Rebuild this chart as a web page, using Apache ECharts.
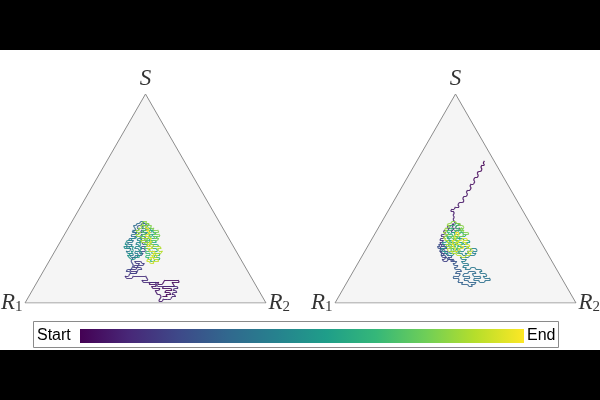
<!DOCTYPE html>
<html><head><meta charset="utf-8">
<script src="https://cdn.jsdelivr.net/npm/echarts@6/dist/echarts.min.js"></script>
<style>html,body{margin:0;padding:0;background:#fff}#c{width:600px;height:400px}</style>
</head><body><div id="c"></div>
<script>
// Simplex outline (x along base, y in lattice rows; apex = S)
const triangle = [[0,0],[50,100],[100,0],[0,0]];
const vertexNames = ['S','R','R'];
const vertexSubs = ['','1','2'];
const colorbarLabels = ['Start','End'];
const VIRIDIS = ['#440154','#482878','#3e4989','#31688e','#26828e','#1f9e89','#35b779','#6ece58','#b5de2b','#fde725'];

// Left panel walk: [x, row]
const walkLeft = [
 [57,3],[59,3],[58.5,4],[60.5,4],[60,5],[58,5],[58.5,6],[61,6],[60.5,7],[57,7],[57.5,8],[62,8],[61,10],[64,10],[63.5,11],[58,11],[57,9],[55,9],[55.5,10],[52,10],[51.5,9],[54,9],[54.5,8],[52.5,8],[53,7],[56,7],[55.5,6],[54,6],[55,4],[56,4],[56.5,3],[55.5,1],[57,1],[57.5,2],[59,2],
 [60.5,2],[61,3],[62.5,3],[62,4],[61,4],[61.5,5],[63,5],[62.5,6],[61.5,6],[62,7],[63.5,7],[63,8],[59,8],[55,8],[54,10],[49,10],[48.5,11],[51,11],
 [50,13],[45,13],[44.5,12],[42,12],[41.5,13],[43,13],[43.5,14],[46,14],[46.5,15],[44,15],[43.5,16],[46,16],[46.5,17],[45,17],[45.5,18],[47,18],[47.5,19],[46,19],[45.5,20],[48,20],[48.5,19],[49.5,19],[49,18],[47,18],[46.5,17],[48,17],[48.5,16],[47,16],[46,14],[44,14],[43.5,15],[42,15],[42.5,16],[44,16],[45,18],[44,20],[45,22],[46.5,22],[47,23],
 [48.5,23],[49,24],[47.5,24],[48,25],[50,25],[49.5,26],[48,26],[48.5,27],[50.5,27],[51,28],[49,28],[48.5,29],[50,29],[50.5,30],[48,30],[48.5,31],[50,31],[49.5,32],[48,32],[48.5,33],[50.5,33],[50,34],[48,34],[48.5,35],[50,35],[50.5,36],[48.5,36],[49,37],[50.5,37],[50,38],[48.5,38],[48,37],[47,37],[46.5,36],[47.5,36],[47,35],[45.5,35],[45,34],[46.5,34],[46,33],
 [47,33],[47.5,34],[49,34],[49.5,35],[51,35],[51.5,36],[50,36],[50.5,37],[51.5,37],[51,38],[49.5,38],[49,39],[48,39],[47.5,38],[46.5,38],[46,37],[45,37],[45.5,36],[46,35],[45,35],[44.5,34],[45.5,34],[46,33],
 [44.5,33],[44,32],[46,32],[45.5,31],[43.5,31],[43,30],[45,30],[44.5,29],[42.5,29],[43,28],[44.5,28],[44,27],[42,27],[42.5,26],[44,26],[43.5,25],[42,25],[42.5,24],[44.5,24],[45,23],[43.5,23],[44,22],[45.5,22],[46,23],[47,23],[46.5,24],[45.5,24],[46,25],[47.5,25],[47,26],[45.5,26],[46,27],[47.5,27],[47,28],[46,28],[46.5,29],[48,29],[47.5,30],[46.5,30],[47,31],[48,31],
 [47.5,32],[46.5,32],[46,31],[44.5,31],[44,30],[42.5,30],[42,29],[41.5,28],[42.5,28],[42,27],[41,27],[41.5,26],[43,26],[43.5,27],[45,27],[44.5,26],[45,25],[44,25],[44.5,24],[43,24],[43.5,23],[42.5,23],[43,22],[44,21],[45.5,21],[46,22],[47.5,22],[47,23],[48,23],[48.5,24],[47.5,25],[48.5,26],[47.5,27],[48,28],[47.5,29],[48.5,30],[48,31],
 [48.5,32],[51.5,32],[52,33],[50,33],[50.5,34],[52.5,34],[53,35],[51,35],[51.5,36],[52.5,36],[52,35],[53.5,35],[53,34],[54.5,34],[54,33],[52.5,33],[53,32],[55,32],[54.5,31],[52,31],[51.5,30],[54,30],[54.5,29],[52.5,29],[52,28],[55,28],[55.5,27],[53,27],[52.5,26],[54.5,26],[55,25],[53,25],[52.5,24],[55.5,24],[56,23],[54,23],[53.5,22],[55.5,22],[56,21],[54,21],[53.5,20],[52,20],[52.5,21],[51,21],[51.5,22],[50,22],[50.5,23],[52,23],[51.5,24],[50,24],[50.5,25],[52,25],[51.5,26],[49.5,26],[50,27],[52,27],[51.5,28],[49.5,28],[50,29],[52,29],[51.5,30],[49.5,30],[50,31],[51.5,31],[51,32],[48.5,32],[49,33],[50,33],[49.5,34],[48.5,34],[49,35],[50.5,35],[50,36],[49,36],[49.5,37],[51,37],[50.5,36],[51.5,36],[51,35],[52,35],[51.5,34],[51,33],[52,33],[51.5,32],[52.5,32],[52,31],[51,31],[50.5,30],[51,29],
 [52.5,29],[53,30],[55,30],[55.5,31],[53.5,31],[54,32],[56,32],[55.5,33],[53.5,33],[54,34],[55.5,34],[55,35],[53,35],[53.5,36],[52,36],[52.5,37],[51,37],[51.5,38],[50,38],[50.5,39],[49,39],[48.5,38],[49.5,37],[48,37],[48.5,36],[47,36],[47.5,35],[46,35],[46.5,34],[48,34],[47.5,33],[46,33],[46.5,32],[48,32],[48.5,31],[50.5,31],[50,30],[48,30],[48.5,29],[50.5,29],[51,28],[53,28],[53.5,27],[56,27],[56.5,26],[55,26],[55.5,25],[57,25],[56.5,24],[54.5,24],[54,23],[55,23],[54.5,22],[53,22],[53.5,21],[55,21],[55.5,20],[53,20],[53.5,19],[52,19],[51.5,20],[50.5,20],[51,21],[52.5,21],[52,22],[53,22],[52.5,23],[53.5,23],[53,24],[54,24],[53.5,25],[51.5,25],[51,26],[53,26],[52.5,27],[50.5,27],[51,28],[52,28],[51.5,29],[52.5,29],[52,30],[52.5,31],[51.5,31],[51,32],[50,32],[50.5,33],[51.5,33],[52,34],[51,34],[50.5,35],[51.5,35],[51,36],[50,36],[50.5,37]
];

// Right panel walk: [x, row]
const walkRight = [
 [62,68],[61.5,67],[62,66],[61,66],[60.5,65],[61,64],[60.5,63],[59.5,63],[59,62],[59.5,61],[59,60],[58,60],[57.5,59],[58,58],[57.5,57],[56.5,57],[56,56],[56.5,55],[56,54],[55,54],[54.5,53],[55,52],[54.5,51],[53.5,51],[53,50],[53.5,49],[53,48],[51.5,48],[51,47],[51.5,46],[50,46],[49.5,45],[48.5,45],[48,44],[49,44],[49.5,43],[49,42],[49.5,41],[49,40],[49.5,39],[50,38],
 [51.5,38],[52,37],[50.5,37],[50,36],[51.5,36],[52,35],[50.5,35],[50,34],[48.5,34],[48,35],[49,35],[49.5,36],[48.5,36],[49,37],
 [49,38],[48.5,37],[47,37],[46.5,36],[47.5,36],[47,35],[45.5,35],[45,34],[46,34],[45.5,33],[44.5,33],[44,32],[45.5,32],[45,31],[44,31],[43.5,30],[45,30],[44.5,29],[43.5,29],[44,28],[45.5,28],[45,27],[44,27],[43.5,26],[45,26],[44.5,25],[43.5,25],[44,24],[45.5,24],[45,23],[44,23],[44.5,22],[46,22],[45.5,21],[44.5,21],[45,20],[46.5,20],[47,21],[48.5,21],[48,20],[49.5,20],
 [49,21],[47.5,21],[47,22],[48.5,22],[48,23],[46.5,23],[46,24],[47,24],[46.5,25],[45.5,25],[45,26],[46.5,26],[46,27],[44.5,27],[44,28],[43,28],[43.5,27],[42.5,27],[43,26],[44,26],[43.5,25],[44.5,24],[44,23],[45.5,23],[46,22],[47,21],[48.5,21],[49,20],[50.5,20],
 [50,19],[49,19],[49.5,18],[51,18],[50.5,17],[49.5,17],[50,16],[52,16],[52.5,15],[50.5,15],[50,14],[52,14],[51.5,13],[49.5,13],[49,12],[51,12],[51.5,11],[51,10],[53,10],[52.5,9],[55,9],[55.5,8],[57,8],[56.5,9],[58,9],[58.5,10],[55.5,10],[55,11],[53.5,11],[54,12],[56,12],[55.5,13],[53,13],[53.5,14],[55,14],[55.5,15],[58,15],[58.5,14],[57,14],[57.5,13],[60,13],[60.5,12],[58,12],[57.5,11],[59.5,11],[60,10],[62,10],[62.5,11],[64.5,11],[64,12],[62,12],[61.5,13],[63,13],[62.5,14],[60.5,14],[60,15],[61,15],[60.5,16],[58.5,16],[58,17],[56.5,17],[56,16],[54,16],[54.5,17],[53,17],[53.5,18],[55.5,18],[55,19],[53,19],[52.5,20],[54,20],[54.5,21],[52.5,21],[52,22],[53.5,22],
 [55.5,22],[56,23],[58,23],[58.5,24],[57,24],[57.5,25],[59,25],[58.5,26],[56.5,26],[56,25],[55,25],[55.5,24],[54,24],[54.5,23],[53,23],
 [52.5,24],[51,24],[51.5,25],[53.5,25],[54,26],[55.5,26],[55,27],[53,27],[52.5,26],[50.5,26],[50,25],[48,25],[47.5,24],[49.5,24],[49,23],[47,23],[46.5,24],[45.5,24],[46,25],[44.5,25],[44,26],[45.5,26],[46,27],[47.5,27],[47,28],[45,28],[44.5,29],[46,29],[46.5,30],[48,30],[47.5,29],[49,29],[48.5,28],[50.5,28],[51,29],[53,29],[53.5,28],[55,28],[54.5,29],[56,29],[55.5,30],[53.5,30],[53,31],[51,31],
 [50.5,32],[48.5,32],[48,31],[46.5,31],[47,32],[46,32],[46.5,33],[48,33],[48.5,34],[50,34],[49.5,33],[51.5,33],[52,34],[53.5,34],[53,33],[54.5,33],[54,32],[52,32],[51.5,31],[52,30],[50,30],[49.5,31],[49,30],[48.5,29],[47,29],[47.5,28],[49.5,28],[50,27],[48,27],[47.5,26],[49,26],[49.5,25],[51,25],[50.5,26],[52,26],[52.5,27],[51,27],[51.5,28],[53,28],[52.5,29],[51,29],[50.5,28],[50,29],[49,29],[48.5,30],[47.5,30],[47,31],[47.5,32],[49,32],[48.5,33],[47,33],[47.5,34],[46.5,34],[47,35],[48.5,35],[49,36],[47.5,36],[48,37],[49.5,37],[50,38],[51,38],[51.5,37],[50.5,37],[50,36],[51.5,36],[51,35],[49.5,35],[50,34],[51,34],[51.5,35],[53,35],[52.5,36],[52,35],[52.5,34],[51.5,33],[50,33],[49.5,32],[50.5,32],[51,31],[50,31],[49.5,30],[51.5,30],[51,29],[49.5,29],[49,28],[48,28],[48.5,27],[50,27],[49.5,26],[48,26],[48.5,25],[50,25],[50.5,24],[51.5,24],[52,25],[51.5,26],[50.5,26],[51,27],[50.5,28],[51,29],[50,30],[50.5,31],[49.5,31],[49,32],[48,32],[48.5,31],[49,31],
 [50.5,31],[51,32],[53,32],[53.5,33],[55.5,33],[55,34],[53,34],[53.5,35],[52,35],[52.5,36],[53.5,36],[53,37],[51.5,37],[52,38],[50.5,38],[50,39],[48.5,39],[48,38],[47,38],[46.5,37],[47.5,37],[47,36],[46,36],[45.5,35],[46.5,35],[46,34],[45,34],[45.5,33],[47,33],[46.5,32],[45.5,32],[45,31],[46,31],[45.5,30],[47,30],[46.5,29],[48,29],[47.5,28],[46,28],[46.5,27],[48.5,27],[48,26],[46.5,26],[47,25],[49,25],[48.5,24],[50,24],[50.5,23],[52,23],[52.5,22],[54,22],[54.5,23],[56,23],[56.5,24],[55,24],[55.5,25],[57,25],[56.5,26],[55,26],[54.5,27],[56,27],[55.5,28],[54,28],[54.5,29],[53,29],[53.5,30],[55,30],[54.5,31],[53,31],[52.5,30],[51,30],[51.5,29],[50,29],[50.5,28],[52,28],[52.5,27],[53.5,27],[53,26],[51.5,26],[51,25],[49.5,25],[50,26],[49,27],[49.5,28],[48.5,28],[49,29],[48.5,30],[49.5,30],[50,31],[49.5,32],[50.5,33],[50,34],[51,34],[51.5,33],[51,32]
];

function hexToRgb(h){return [1,3,5].map(i=>parseInt(h.substr(i,2),16));}
function viridisAt(t){
  t=Math.max(0,Math.min(1,t));
  const f=t*(VIRIDIS.length-1);
  const i=Math.min(Math.floor(f),VIRIDIS.length-2);
  const u=f-i; const a=hexToRgb(VIRIDIS[i]), b=hexToRgb(VIRIDIS[i+1]);
  return 'rgb('+a.map((v,k)=>Math.round(v+(b[k]-v)*u)).join(',')+')';
}
function segments(walk){
  const n=walk.length;
  return walk.slice(1).map((p,i)=>({coords:[walk[i],p],lineStyle:{color:viridisAt((i+0.5)/(n-1))}}));
}

const chart = echarts.init(document.getElementById('c'), null, {renderer:'canvas'});
const grids = [
  {left:25, top:94, width:241, height:209},
  {left:335, top:94, width:241, height:209}
];
const rich = {
  v:{fontFamily:'Liberation Serif', fontStyle:'italic', fontSize:23, color:'#000', lineHeight:24, verticalAlign:'top'},
  sub:{fontFamily:'Liberation Serif', fontSize:15, color:'#000', lineHeight:14, padding:[14,0,0,0], verticalAlign:'bottom'}
};
function vertexSeries(k){
  const pos = ['top','left','right'];
  return {
    type:'scatter', xAxisIndex:k, yAxisIndex:k, symbolSize:1, silent:true, z:5,
    itemStyle:{color:'rgba(0,0,0,0)'},
    data:[triangle[1],triangle[0],triangle[2]].map((p,i)=>({
      value:p,
      label:{show:true, position:pos[i], distance:2,
        formatter: vertexSubs[i] ? '{v|'+vertexNames[i]+'}{sub|'+vertexSubs[i]+'}' : '{v|'+vertexNames[i]+'}',
        rich:rich}
    }))
  };
}
function triSeries(k){
  return {type:'line', xAxisIndex:k, yAxisIndex:k, data:triangle, symbol:'none', silent:true, z:1,
    lineStyle:{color:'#8c8c8c', width:1}, areaStyle:{color:'#f5f5f5', opacity:1}};
}
function walkSeries(k, walk){
  return {type:'lines', coordinateSystem:'cartesian2d', xAxisIndex:k, yAxisIndex:k, silent:true, z:3,
    polyline:false, lineStyle:{width:1.2, opacity:0.88}, data:segments(walk)};
}
const grad = {type:'linear', x:0, y:0, x2:1, y2:0,
  colorStops: VIRIDIS.map((c,i)=>({offset:i/(VIRIDIS.length-1), color:c}))};

chart.setOption({
  animation:false,
  backgroundColor:'#fff',
  grid: grids,
  xAxis: [0,1].map(k=>({type:'value', gridIndex:k, min:0, max:100, show:false})),
  yAxis: [0,1].map(k=>({type:'value', gridIndex:k, min:0, max:100, show:false})),
  series: [triSeries(0), triSeries(1), walkSeries(0, walkLeft), walkSeries(1, walkRight), vertexSeries(0), vertexSeries(1)],
  graphic: [
    {type:'rect', shape:{x:0,y:0,width:600,height:50}, style:{fill:'#000'}, silent:true},
    {type:'rect', shape:{x:0,y:350,width:600,height:50}, style:{fill:'#000'}, silent:true},
    {type:'rect', shape:{x:33.5,y:321.5,width:525,height:26}, style:{fill:'#fff', stroke:'#8a8a8a', lineWidth:1}, silent:true},
    {type:'rect', shape:{x:80,y:329,width:444,height:14}, style:{fill:grad}, silent:true},
    {type:'text', x:37, y:336, style:{text:colorbarLabels[0], fontSize:16, fontFamily:'Liberation Sans', fill:'#000', verticalAlign:'middle', align:'left'}, silent:true},
    {type:'text', x:527, y:336, style:{text:colorbarLabels[1], fontSize:16, fontFamily:'Liberation Sans', fill:'#000', verticalAlign:'middle', align:'left'}, silent:true}
  ]
});
</script></body></html>
